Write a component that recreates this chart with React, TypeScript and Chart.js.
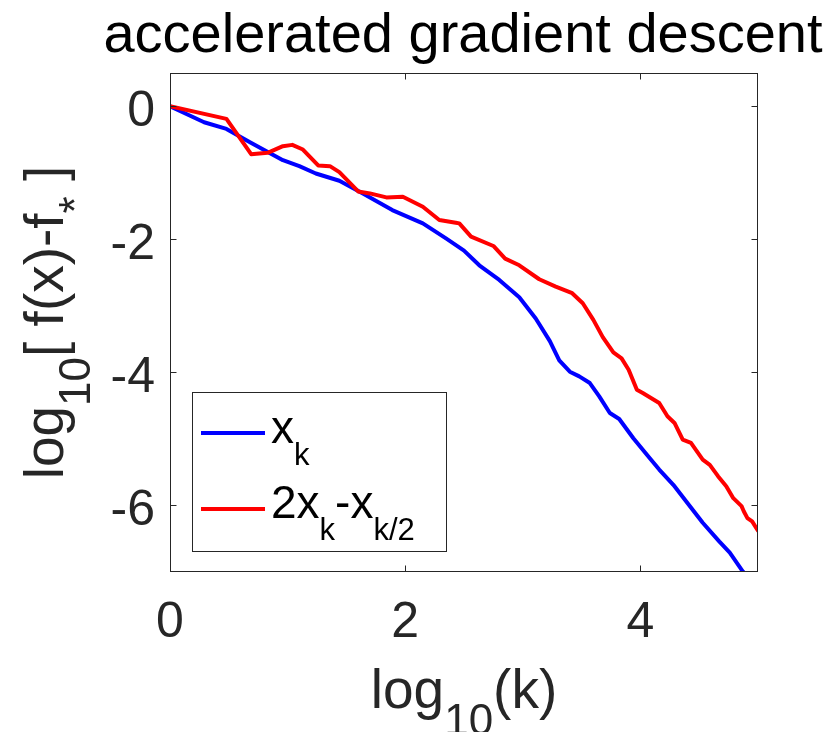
import React, { useEffect, useRef } from "react";
import { Chart, registerables } from "chart.js";

Chart.register(...registerables);

// ---- data ----
const blueX = [0, 0.29, 0.48, 0.68, 0.96, 1.1, 1.24, 1.44, 1.64, 1.89, 2.15, 2.35, 2.5, 2.63, 2.8, 2.97, 3.11, 3.23, 3.31, 3.4, 3.48, 3.57, 3.65, 3.74, 3.82, 3.94, 4.08, 4.16, 4.28, 4.39, 4.53, 4.67, 4.76, 4.87, 4.9];
const blueY = [0, -0.24, -0.34, -0.54, -0.81, -0.9, -1.01, -1.12, -1.31, -1.56, -1.76, -1.99, -2.17, -2.39, -2.61, -2.87, -3.19, -3.53, -3.82, -3.99, -4.06, -4.16, -4.36, -4.61, -4.7, -4.99, -5.29, -5.46, -5.69, -5.94, -6.26, -6.54, -6.71, -6.99, -7.05];

const redX = [0, 0.48, 0.69, 0.83, 0.96, 1.04, 1.13, 1.26, 1.36, 1.44, 1.6, 1.7, 1.84, 1.98, 2.15, 2.29, 2.43, 2.46, 2.56, 2.75, 2.85, 2.97, 3.14, 3.28, 3.42, 3.51, 3.6, 3.68, 3.77, 3.84, 3.9, 3.97, 4.02, 4.16, 4.23, 4.29, 4.36, 4.43, 4.53, 4.59, 4.66, 4.73, 4.79, 4.86, 4.88, 4.91, 4.95, 5.0];
const redY = [0, -0.19, -0.72, -0.7, -0.6, -0.58, -0.65, -0.89, -0.9, -0.99, -1.28, -1.31, -1.37, -1.36, -1.51, -1.71, -1.75, -1.76, -1.96, -2.1, -2.29, -2.39, -2.6, -2.71, -2.81, -2.96, -3.21, -3.47, -3.7, -3.79, -3.96, -4.26, -4.31, -4.46, -4.66, -4.76, -5.01, -5.06, -5.31, -5.39, -5.56, -5.71, -5.89, -6.01, -6.09, -6.19, -6.24, -6.38];

const xTicks = [0, 2, 4];
const yTicks = [0, -2, -4, -6];
const xLimits = [0, 5];
const yLimits = [-7, 0.5];

const titleText = "accelerated gradient descent";

const FONT = "'Liberation Sans', Arial, Helvetica, sans-serif";
const AXIS_COLOR = "#262626";

type Run = { t: string; sub?: boolean };

const xLabelRuns: Run[] = [{ t: "log" }, { t: "10", sub: true }, { t: "(k)" }];
const yLabelRuns: Run[] = [
  { t: "log" },
  { t: "10", sub: true },
  { t: "[ f(x)-f" },
  { t: "*", sub: true },
  { t: " ]" },
];
const legendBlueRuns: Run[] = [{ t: "x" }, { t: "k", sub: true }];
const legendRedRuns: Run[] = [
  { t: "2x" },
  { t: "k", sub: true },
  { t: "-x" },
  { t: "k/2", sub: true },
];

function drawRich(
  ctx: CanvasRenderingContext2D,
  runs: Run[],
  x: number,
  y: number,
  size: number,
  subSize: number,
  subOff: number,
  align: "left" | "center"
) {
  const widths = runs.map((r) => {
    ctx.font = `${r.sub ? subSize : size}px ${FONT}`;
    return ctx.measureText(r.t).width;
  });
  const total = widths.reduce((a, b) => a + b, 0);
  let cx = align === "center" ? x - total / 2 : x;
  ctx.textAlign = "left";
  ctx.textBaseline = "alphabetic";
  runs.forEach((r, i) => {
    ctx.font = `${r.sub ? subSize : size}px ${FONT}`;
    ctx.fillText(r.t, cx, y + (r.sub ? subOff : 0));
    cx += widths[i];
  });
}

const decorPlugin = {
  id: "decor",
  afterDraw(chart: any) {
    const ctx: CanvasRenderingContext2D = chart.ctx;
    const a = chart.chartArea;
    const xs = chart.scales.x;
    const ys = chart.scales.y;
    ctx.save();

    // frame
    ctx.strokeStyle = AXIS_COLOR;
    ctx.lineWidth = 1;
    const L = Math.round(a.left) + 0.5;
    const R = Math.round(a.right) - 0.5;
    const T = Math.round(a.top) + 0.5;
    const B = Math.round(a.bottom) - 0.5;
    ctx.strokeRect(L, T, R - L, B - T);

    // inward ticks
    const tl = 6;
    ctx.beginPath();
    xTicks.forEach((v) => {
      const px = Math.round(xs.getPixelForValue(v)) + 0.5;
      ctx.moveTo(px, B);
      ctx.lineTo(px, B - tl);
      ctx.moveTo(px, T);
      ctx.lineTo(px, T + tl);
    });
    yTicks.forEach((v) => {
      const py = Math.round(ys.getPixelForValue(v)) + 0.5;
      ctx.moveTo(L, py);
      ctx.lineTo(L + tl, py);
      ctx.moveTo(R, py);
      ctx.lineTo(R - tl, py);
    });
    ctx.stroke();

    // tick labels
    ctx.fillStyle = AXIS_COLOR;
    ctx.font = `50px ${FONT}`;
    ctx.textBaseline = "alphabetic";
    ctx.textAlign = "center";
    xTicks.forEach((v) => {
      ctx.fillText(String(v), xs.getPixelForValue(v), a.bottom + 64.5);
    });
    ctx.textAlign = "right";
    yTicks.forEach((v) => {
      ctx.fillText(String(v), a.left - 15, ys.getPixelForValue(v) + 19.5);
    });

    const cxMid = (a.left + a.right) / 2;
    const cyMid = (a.top + a.bottom) / 2;

    // title
    ctx.fillStyle = "#000000";
    ctx.font = `56px ${FONT}`;
    ctx.textAlign = "center";
    ctx.fillText(titleText, cxMid - 1, 52);

    // x label
    ctx.fillStyle = AXIS_COLOR;
    drawRich(ctx, xLabelRuns, cxMid, 708, 55, 44, 27, "center");

    // y label (rotated)
    ctx.save();
    ctx.translate(63, cyMid);
    ctx.rotate(-Math.PI / 2);
    drawRich(ctx, yLabelRuns, 0, 0, 55, 44, 27, "center");
    ctx.restore();

    // legend box
    const lx0 = 192.5, ly0 = 392.5, lx1 = 446.5, ly1 = 551.5;
    ctx.fillStyle = "#ffffff";
    ctx.fillRect(lx0, ly0, lx1 - lx0, ly1 - ly0);
    ctx.strokeStyle = AXIS_COLOR;
    ctx.lineWidth = 1;
    ctx.strokeRect(lx0, ly0, lx1 - lx0, ly1 - ly0);

    const ds = chart.data.datasets;
    const entries = [
      { color: ds[1].borderColor, runs: legendBlueRuns, ly: 433, ty: 443 },
      { color: ds[0].borderColor, runs: legendRedRuns, ly: 509, ty: 518 },
    ];
    entries.forEach((e) => {
      ctx.strokeStyle = e.color;
      ctx.lineWidth = 4;
      ctx.beginPath();
      ctx.moveTo(201, e.ly);
      ctx.lineTo(265, e.ly);
      ctx.stroke();
      ctx.fillStyle = "#000000";
      drawRich(ctx, e.runs, 271, e.ty, 46, 31, 22, "left");
    });

    ctx.restore();
  },
};

export default function App() {
  const ref = useRef<HTMLCanvasElement | null>(null);

  useEffect(() => {
    if (!ref.current) return;
    const chart = new Chart(ref.current, {
      type: "line",
      data: {
        datasets: [
          {
            label: "2x_k - x_{k/2}",
            data: redX.map((x, i) => ({ x, y: redY[i] })),
            borderColor: "#ff0000",
            borderWidth: 4,
            pointRadius: 0,
            tension: 0,
            fill: false,
            order: 0,
          },
          {
            label: "x_k",
            data: blueX.map((x, i) => ({ x, y: blueY[i] })),
            borderColor: "#0000ff",
            borderWidth: 4,
            pointRadius: 0,
            tension: 0,
            fill: false,
            order: 1,
          },
        ],
      },
      options: {
        responsive: false,
        animation: false,
        layout: { padding: { left: 170, top: 73, right: 73, bottom: 160 } },
        scales: {
          x: { type: "linear", display: false, min: xLimits[0], max: xLimits[1] },
          y: { type: "linear", display: false, min: yLimits[0], max: yLimits[1] },
        },
        plugins: {
          legend: { display: false },
          tooltip: { enabled: false },
          title: { display: false },
        },
        elements: { line: { borderCapStyle: "round", borderJoinStyle: "round" } },
      },
      plugins: [decorPlugin],
    });
    return () => chart.destroy();
  }, []);

  return (
    <div style={{ position: "absolute", left: 0, top: 0, width: 831, height: 732, background: "#fff" }}>
      <canvas ref={ref} width={831} height={732} style={{ display: "block" }} />
    </div>
  );
}
